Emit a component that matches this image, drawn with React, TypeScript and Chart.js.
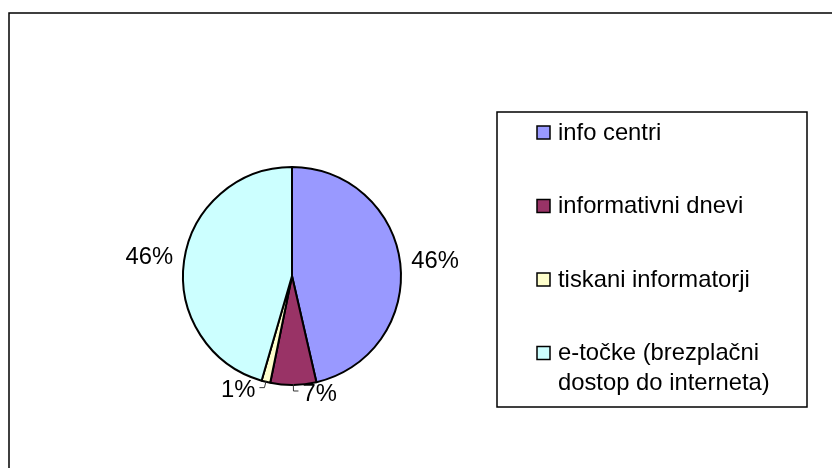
import React, { useEffect, useRef } from "react";
import { Chart, registerables } from "chart.js";

Chart.register(...registerables);

const categories = [
  "info centri",
  "informativni dnevi",
  "tiskani informatorji",
  "e-točke (brezplačni dostop do interneta)",
];
const legendLines = [
  ["info centri"],
  ["informativni dnevi"],
  ["tiskani informatorji"],
  ["e-točke (brezplačni", "dostop do interneta)"],
];
const shares = [46.4, 6.8, 1.3, 45.5];
const sliceColors = ["#9999FF", "#993366", "#FFFFCC", "#CCFFFF"];

const FONT = "23.8px 'Liberation Sans', Arial, sans-serif";

const framePlugin = {
  id: "frame",
  beforeDraw(chart: any) {
    const ctx = chart.ctx;
    ctx.save();
    ctx.fillStyle = "#ffffff";
    ctx.fillRect(0, 0, chart.width, chart.height);
    ctx.strokeStyle = "#000000";
    ctx.lineWidth = 1.5;
    ctx.beginPath();
    ctx.moveTo(1, chart.height + 5);
    ctx.lineTo(1, 5);
    ctx.lineTo(chart.width + 5, 5);
    ctx.stroke();
    ctx.restore();
  },
};

const labelPlugin = {
  id: "pctLabels",
  afterDatasetsDraw(chart: any) {
    const ctx = chart.ctx;
    const meta = chart.getDatasetMeta(0);
    const data: number[] = chart.data.datasets[0].data;
    const total = data.reduce((a, b) => a + b, 0);
    ctx.save();
    ctx.font = FONT;
    ctx.fillStyle = "#000";
    ctx.strokeStyle = "#333";
    ctx.lineWidth = 1;
    ctx.textBaseline = "middle";
    meta.data.forEach((arc: any, i: number) => {
      const p = arc.getProps(["x", "y", "startAngle", "endAngle", "outerRadius"], true);
      const mid = (p.startAngle + p.endAngle) / 2;
      const dx = Math.cos(mid);
      const dy = Math.sin(mid);
      const pct = Math.round((data[i] / total) * 100);
      const text = pct + "%";
      const side = dx >= 0 ? 1 : -1;
      ctx.textAlign = side > 0 ? "left" : "right";
      if (pct >= 5 && Math.abs(dx) > 0.5) {
        const d = p.outerRadius + 11;
        ctx.fillText(text, p.x + dx * d, p.y + dy * d - 1.5);
      } else {
        const x1 = p.x + dx * (p.outerRadius - 1);
        const y1 = p.y + dy * (p.outerRadius - 1);
        const x2 = p.x + dx * (p.outerRadius + 6);
        const y2 = p.y + dy * (p.outerRadius + 6);
        const x3 = x2 + side * 5;
        ctx.beginPath();
        ctx.moveTo(x1, y1);
        ctx.lineTo(x2, y2);
        ctx.lineTo(x3, y2);
        ctx.stroke();
        ctx.fillText(text, x3 + side * 4, y2 + 3);
      }
    });
    ctx.restore();
  },
};

const legendPlugin = {
  id: "boxLegend",
  afterDraw(chart: any) {
    const ctx = chart.ctx;
    const bx = 489, by = 104, bw = 310, bh = 295;
    ctx.save();
    ctx.strokeStyle = "#000";
    ctx.lineWidth = 1.5;
    ctx.strokeRect(bx, by, bw, bh);
    const colors: string[] = chart.data.datasets[0].backgroundColor;
    ctx.font = FONT;
    ctx.textAlign = "left";
    ctx.textBaseline = "middle";
    legendLines.forEach((lines, i) => {
      const cy = by + 21 + i * 73.5;
      ctx.fillStyle = colors[i];
      ctx.fillRect(bx + 40, cy - 7, 13, 13);
      ctx.lineWidth = 1.5;
      ctx.strokeStyle = "#000";
      ctx.strokeRect(bx + 40, cy - 7, 13, 13);
      ctx.fillStyle = "#000";
      lines.forEach((ln, j) => {
        ctx.fillText(ln, bx + 61, cy + j * 30);
      });
    });
    ctx.restore();
  },
};

export default function App() {
  const ref = useRef<HTMLCanvasElement | null>(null);
  useEffect(() => {
    if (!ref.current) return;
    const chart = new Chart(ref.current, {
      type: "pie",
      data: {
        labels: categories,
        datasets: [
          {
            data: shares,
            backgroundColor: sliceColors,
            borderColor: "#000000",
            borderWidth: 2,
            hoverOffset: 0,
            radius: 109,
          } as any,
        ],
      },
      options: {
        animation: false,
        responsive: false,
        devicePixelRatio: 1,
        layout: { padding: { left: 100, right: 364, top: 100, bottom: 24 } },
        plugins: {
          legend: { display: false },
          tooltip: { enabled: false },
        },
        events: [],
      },
      plugins: [framePlugin, labelPlugin, legendPlugin],
    });
    return () => chart.destroy();
  }, []);
  return (
    <div style={{ width: 832, height: 460 }}>
      <canvas ref={ref} width={832} height={460} style={{ display: "block" }} />
    </div>
  );
}
